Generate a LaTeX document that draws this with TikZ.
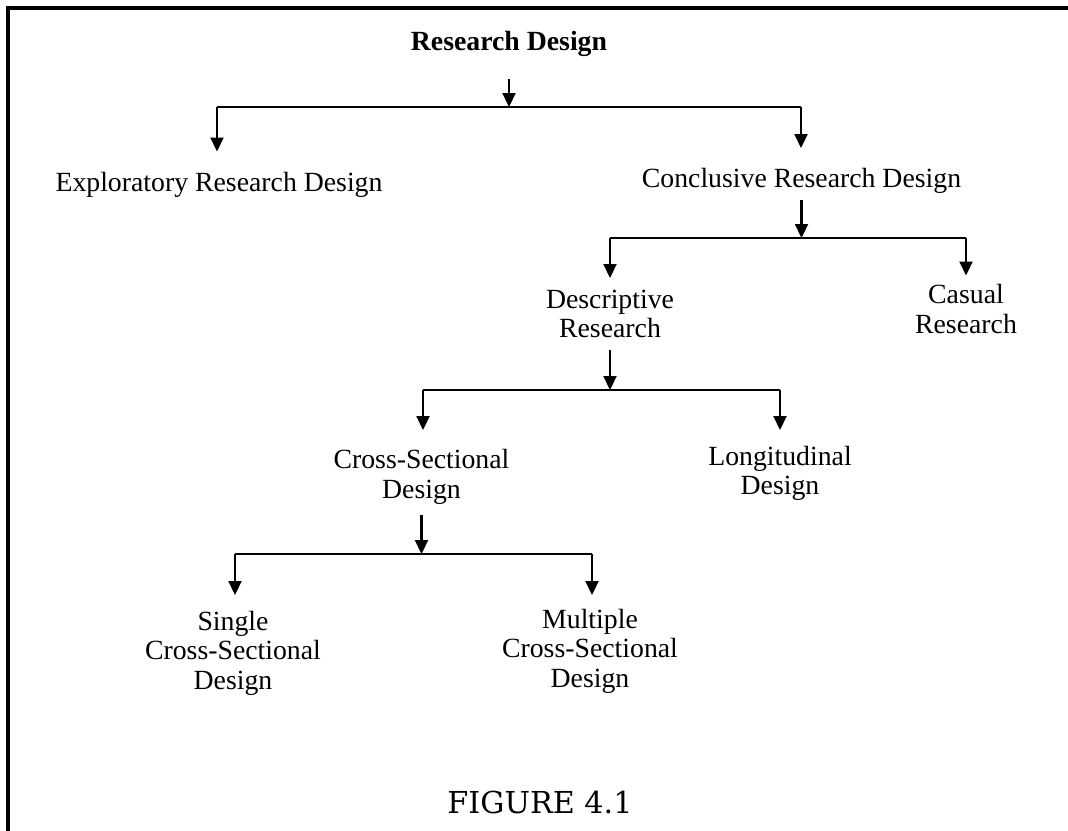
\documentclass[tikz,border=0pt]{standalone}
\usepackage{fontspec}
\setmainfont{Liberation Serif}
\newfontfamily\figfont{DejaVu Serif}
\usetikzlibrary{arrows.meta}

\begin{document}
\begin{tikzpicture}[>={Triangle[length=1.4mm,width=1.3mm]}, line width=0.6pt,
  lbl/.style={inner sep=0pt, anchor=north, align=center, font=\fontsize{7.9}{8.4}\selectfont}]

\useasboundingbox (0,0) rectangle (10.68,-8.30);
\draw[line width=0.9pt](0.08,-8.40)--(0.08,-0.08)--(10.78,-0.08);

% labels
\node[lbl, font=\fontsize{7.9}{8.4}\selectfont\bfseries] (rd) at (5.09,-0.30) {Research Design};
\node[lbl] (expl) at (2.19,-1.715) {Exploratory Research Design};
\node[lbl] (conc) at (8.015,-1.675) {Conclusive Research Design};
\node[lbl] (desc) at (6.10,-2.89) {Descriptive\\Research};
\node[lbl] (caus) at (9.66,-2.835) {Casual\\Research};
\node[lbl] (cross) at (4.215,-4.485) {Cross-Sectional\\Design};
\node[lbl] (longi) at (7.80,-4.45) {Longitudinal\\Design};
\node[lbl] (single) at (2.33,-6.10) {Single\\Cross-Sectional\\Design};
\node[lbl] (multi) at (5.90,-6.08) {Multiple\\Cross-Sectional\\Design};
\node[lbl, font=\figfont\fontsize{8.6}{10}\selectfont] (fig) at (5.40,-7.90) {FIGURE 4.1};

% junctions on the bars
\coordinate (j1) at (5.09,-1.07);  \coordinate (j1a) at (2.17,-1.07);  \coordinate (j1b) at (8.01,-1.07);
\coordinate (j2) at (8.015,-2.38); \coordinate (j2a) at (6.10,-2.38);  \coordinate (j2b) at (9.66,-2.38);
\coordinate (j3) at (6.10,-3.90);  \coordinate (j3a) at (4.23,-3.90);  \coordinate (j3b) at (7.80,-3.90);
\coordinate (j4) at (4.215,-5.54); \coordinate (j4a) at (2.35,-5.54);  \coordinate (j4b) at (5.92,-5.54);

\draw[->,shorten <=2.1mm](rd.south)--(j1);
\draw(j1a)--(j1b);
\draw[->,shorten >=2mm](j1a)--(j1a |- expl.north);
\draw[->,shorten >=1.95mm](j1b)--(j1b |- conc.north);

\draw[->,shorten <=0.5mm](conc.south)--(j2);
\draw(j2a)--(j2b);
\draw[->,shorten >=1.1mm](j2a)--(j2a |- desc.north);
\draw[->,shorten >=0.8mm](j2b)--(j2b |- caus.north);

\draw[->,shorten <=1.1mm](desc.south)--(j3);
\draw(j3a)--(j3b);
\draw[->,shorten >=1.85mm](j3a)--(j3a |- cross.north);
\draw[->,shorten >=1.5mm](j3b)--(j3b |- longi.north);

\draw[->,shorten <=1mm](cross.south)--(j4);
\draw(j4a)--(j4b);
\draw[->,shorten >=1.5mm](j4a)--(j4a |- single.north);
\draw[->,shorten >=1.3mm](j4b)--(j4b |- multi.north);
\end{tikzpicture}
\end{document}
